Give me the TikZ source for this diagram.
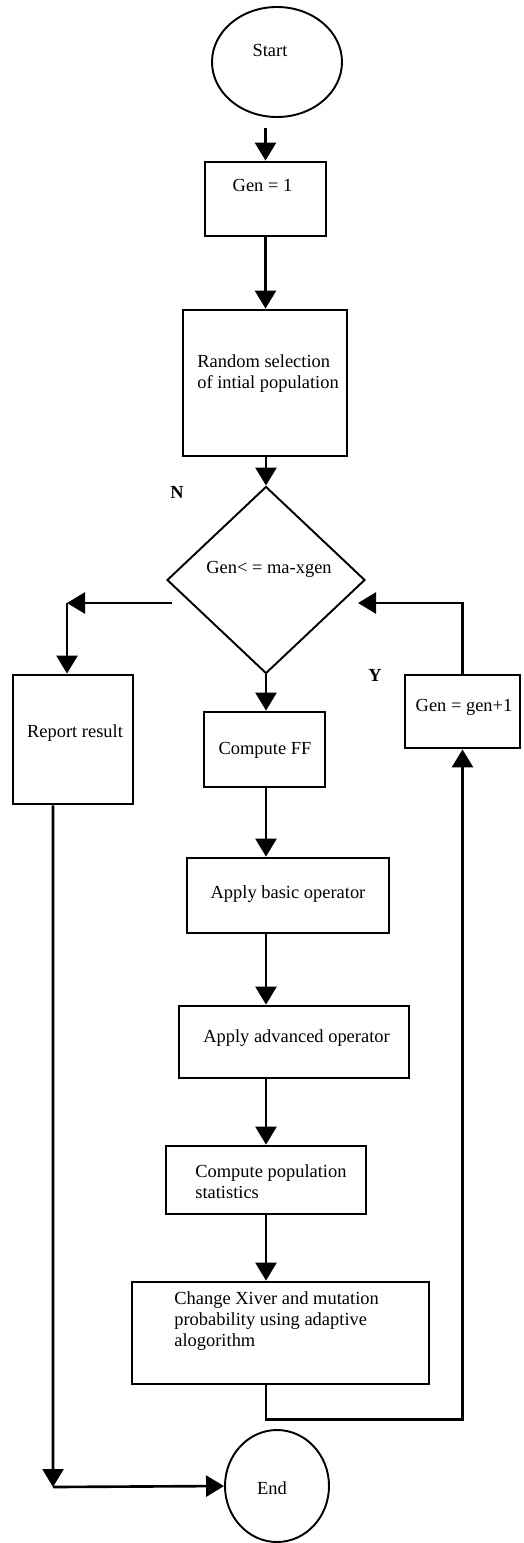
\documentclass[tikz,border=0pt]{standalone}
\usepackage{fontspec}
\setmainfont{Liberation Serif}
\usetikzlibrary{positioning, arrows.meta, shapes.geometric}

\tikzset{
  box/.style={draw, line width=1.6pt, inner sep=0pt},
  txt/.style={inner sep=0pt, font=\fontsize{10.5}{12}\selectfont},
  flow/.style={line width=1.5pt, -{Triangle[length=0.36cm, width=0.42cm]}},
}

\begin{document}
\begin{tikzpicture}
    \useasboundingbox (0,0) rectangle (10.48,-30.86);
    % Start und Initialisierung
    \node[draw, ellipse, line width=1.1pt, minimum width=2.6cm, minimum height=2.2cm] (start) at (5.54,-1.24) {};
    \node[txt] (startt) at (5.40,-1.0) {Start};
    \node[box, minimum width=2.42cm, minimum height=1.48cm] (gen) at (5.31,-3.98) {};
    \node[txt] (gent) at (5.25,-3.70) {Gen = 1};
    \node[box, minimum width=3.28cm, minimum height=2.92cm] (rand) at (5.30,-7.66) {};
    \node[txt, align=left, anchor=west] (randt) at (3.94,-7.48) {Random selection\\of intial population};
    % Abfrage
    \node[draw, diamond, line width=1.1pt, minimum width=3.96cm, minimum height=3.74cm, inner sep=0pt] (test) at (5.32,-11.6) {};
    \node[txt] (testt) at (5.38,-11.38) {Gen< = ma-xgen};
    \node[txt, font=\fontsize{10.5}{12}\selectfont\bfseries] (nlab) at (3.54,-9.84) {N};
    \node[txt, font=\fontsize{10.5}{12}\selectfont\bfseries] (ylab) at (7.50,-13.50) {Y};
    % Seitenzweige
    \node[box, minimum width=2.40cm, minimum height=2.58cm] (report) at (1.46,-14.79) {};
    \node[txt] (reportt) at (1.50,-14.66) {Report result};
    \node[box, minimum width=2.30cm, minimum height=1.46cm] (genp) at (9.25,-14.23) {};
    \node[txt] (genpt) at (9.28,-14.14) {Gen = gen+1};
    % Hauptstrang
    \node[box, minimum width=2.42cm, minimum height=1.50cm] (ff) at (5.29,-14.99) {};
    \node[txt] (fft) at (5.30,-15.0) {Compute FF};
    \node[box, minimum width=4.04cm, minimum height=1.50cm] (basic) at (5.76,-17.91) {};
    \node[txt] (basict) at (5.76,-17.88) {Apply basic operator};
    \node[box, minimum width=4.60cm, minimum height=1.44cm] (adv) at (5.88,-20.84) {};
    \node[txt] (advt) at (5.93,-20.76) {Apply advanced operator};
    \node[box, minimum width=4.00cm, minimum height=1.36cm] (stats) at (5.32,-23.60) {};
    \node[txt, align=left, anchor=west] (statst) at (3.90,-23.63) {Compute population\\statistics};
    \node[box, minimum width=5.94cm, minimum height=2.04cm] (change) at (5.61,-26.66) {};
    \node[txt, align=left, anchor=west] (changet) at (3.48,-26.42) {Change Xiver and mutation\\probability using adaptive\\alogorithm};
    % Ende
    \node[draw, ellipse, line width=1.1pt, minimum width=2.08cm, minimum height=2.24cm] (end) at (5.54,-29.72) {};
    \node[txt] (endt) at (5.44,-29.76) {End};
    % Verbindungen
    \coordinate (nleft) at (3.44,-12.06);
    \coordinate (ncorner) at (1.34,-12.06);
    \coordinate (yend) at (7.16,-12.06);
    \coordinate (rcorner) at (1.06,-29.74);
    \draw[flow] ([yshift=-0.2cm]start.south -| gen.north) -- (gen.north);
    \draw[flow] (gen.south) -- (rand.north -| gen.south);
    \draw[flow] (rand.south -| test) -- (test.north);
    \draw[flow] (test.south) -- (ff.north -| test.south);
    \draw[flow] (ff.south -| test.south) -- (basic.north -| test.south);
    \draw[flow] (basic.south -| test.south) -- (adv.north -| test.south);
    \draw[flow] (adv.south -| test.south) -- (stats.north -| test.south);
    \draw[flow] (stats.south -| test.south) -- (change.north -| test.south);
    \draw[flow] (nleft) -- (ncorner);
    \draw[flow] (ncorner) -- (ncorner |- report.north);
    \draw[flow] (genp.north) |- (yend);
    \draw[flow] (change.south -| test.south) -- ++(0,-0.68) -| (genp.south);
    \draw[flow] ([xshift=-0.4cm]report.south) -- (rcorner);
    \draw[flow] (rcorner) -- (end.west);
\end{tikzpicture}
\end{document}
